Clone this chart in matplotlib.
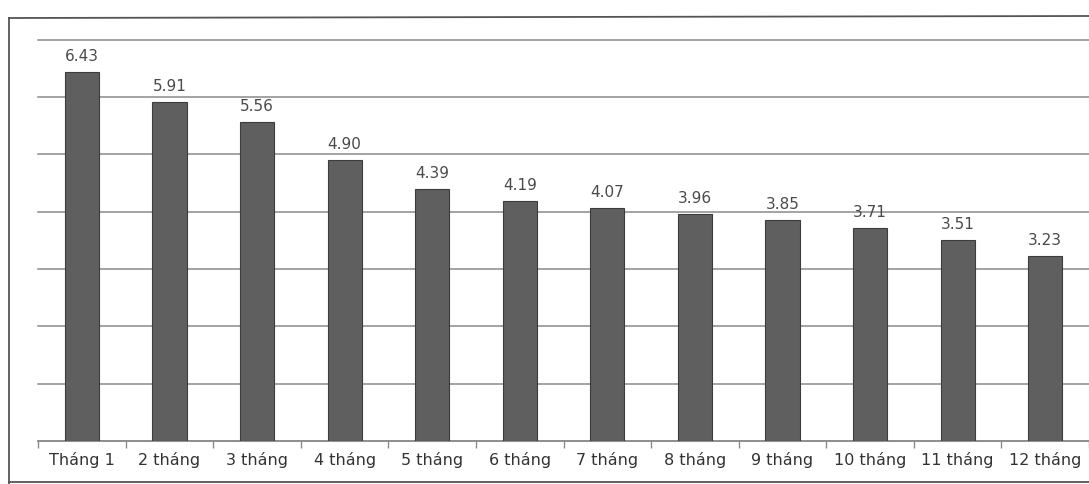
import numpy as np
import matplotlib.pyplot as plt
from matplotlib.lines import Line2D

# Data
categories = ['Tháng 1', '2 tháng', '3 tháng', '4 tháng', '5 tháng', '6 tháng',
              '7 tháng', '8 tháng', '9 tháng', '10 tháng', '11 tháng', '12 tháng']
values = [6.43, 5.91, 5.56, 4.90, 4.39, 4.19, 4.07, 3.96, 3.85, 3.71, 3.51, 3.23]

plt.rcParams['font.family'] = ['DejaVu Sans']

fig = plt.figure(figsize=(10.89, 4.84), dpi=100)
ax = fig.add_axes([0.035, 0.0888, 0.965, 0.829])

x = np.arange(len(categories))
ax.bar(x, values, width=0.39, color='#5f5f5f', edgecolor='#3c3c3c', linewidth=0.8, zorder=3)

for xi, v in zip(x, values):
    ax.text(xi, v + 0.14, f'{v:.2f}', ha='center', va='bottom',
            fontsize=11, color='#4a4a4a')

ax.set_xlim(-0.5, len(categories) - 0.5)
ax.set_ylim(0, 7)
ax.set_yticks(range(0, 8))
ax.yaxis.grid(True, color='#8a8a8a', linewidth=1.1, zorder=0)
for gl in ax.get_ygridlines():
    gl.set_clip_on(False)
ax.tick_params(axis='y', left=False, labelleft=False)

# category labels centred under bars, ticks on category boundaries
ax.set_xticks(x)
ax.set_xticklabels(categories, fontsize=11.5, color='#333333')
ax.tick_params(axis='x', which='major', length=0, pad=8)
ax.set_xticks(np.arange(-0.5, len(categories), 1.0), minor=True)
ax.tick_params(axis='x', which='minor', length=5, color='#8a8a8a', width=1)

for side in ['left', 'right', 'top']:
    ax.spines[side].set_visible(False)
ax.spines['bottom'].set_color('#8a8a8a')
ax.spines['bottom'].set_linewidth(1.1)

# outer frame around the chart
W, H = 1089, 484
frame = [((9 / W, 9 / W), (0, 1 - 18 / H)),
         ((9 / W, 1), (1 - 18 / H, 1 - 16 / H)),
         ((9 / W, 1), (2 / H, 2 / H))]
for xs, ys in frame:
    fig.add_artist(Line2D(xs, ys, color='#555555', linewidth=1.3))

fig.savefig('out.png', dpi=100)
